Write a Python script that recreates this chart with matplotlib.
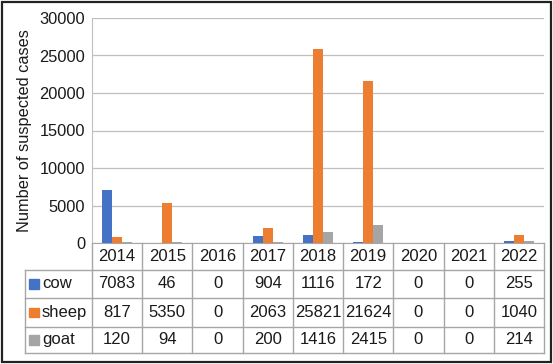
import matplotlib
matplotlib.use('Agg')
import matplotlib.pyplot as plt
import matplotlib.transforms as mtransforms
from matplotlib.patches import Rectangle
import numpy as np

plt.rcParams['font.family'] = ['Liberation Sans', 'DejaVu Sans']

years = ['2014', '2015', '2016', '2017', '2018', '2019', '2020', '2021', '2022']
series_names = ['cow', 'sheep', 'goat']
cow = [7083, 46, 0, 904, 1116, 172, 0, 0, 255]
sheep = [817, 5350, 0, 2063, 25821, 21624, 0, 0, 1040]
goat = [120, 94, 0, 200, 1416, 2415, 0, 0, 214]
colors = ['#4472C4', '#ED7D31', '#A5A5A5']

W, H = 553, 364
fig = plt.figure(figsize=(W / 100, H / 100), dpi=100)
ax = fig.add_axes([92 / W, (H - 243) / H, 452 / W, 225 / H])

x = np.arange(len(years))
bw = 0.2
for k, vals in enumerate([cow, sheep, goat]):
    ax.bar(x + (k - 1) * bw, vals, width=bw, color=colors[k], zorder=3)

ax.set_xlim(-0.5, len(years) - 0.5)
ax.set_ylim(0, 30000)
ax.set_yticks(range(0, 30001, 5000))
ax.tick_params(axis='y', length=0, labelsize=11.8, pad=5, labelcolor='#1a1a1a')
ax.set_xticks([])
ax.grid(axis='y', color='#BFBFBF', lw=0.9, zorder=0)
for s in ['top', 'right']:
    ax.spines[s].set_visible(False)
ax.spines['left'].set_color('#BFBFBF')
ax.spines['bottom'].set_color('#A6A6A6')
ax.set_ylabel('Number of suspected cases', fontsize=11.8, color='#1a1a1a', labelpad=5)

# data table under the plot: x in data units, y in axes units
tr = mtransforms.blended_transform_factory(ax.transData, ax.transAxes)
row_y = [0, -0.12, -0.2444, -0.3733, -0.4889]
left_x = -1.835
lc = '#A6A6A6'
fs = 12

for i in range(len(years) + 1):
    xb = i - 0.5
    ax.plot([xb, xb], [row_y[0], row_y[-1]], transform=tr, color=lc, lw=1,
            clip_on=False)
ax.plot([left_x, left_x], [row_y[1], row_y[-1]], transform=tr, color=lc, lw=1,
        clip_on=False)
for yy in row_y[1:]:
    ax.plot([left_x, len(years) - 0.5], [yy, yy], transform=tr, color=lc, lw=1,
            clip_on=False)

for i, yr in enumerate(years):
    ax.text(i, (row_y[0] + row_y[1]) / 2, yr, transform=tr, ha='center',
            va='center', fontsize=fs, color='#1a1a1a')

for r, (name, vals) in enumerate(zip(series_names, [cow, sheep, goat])):
    yc = (row_y[r + 1] + row_y[r + 2]) / 2
    ax.add_patch(Rectangle((left_x + 0.09, yc - 0.022), 0.19, 0.044, transform=tr,
                           color=colors[r], clip_on=False))
    ax.text(left_x + 0.34, yc, name, transform=tr, ha='left', va='center',
            fontsize=fs, color='#1a1a1a')
    for i, v in enumerate(vals):
        ax.text(i, yc, str(v), transform=tr, ha='center', va='center',
                fontsize=fs, color='#1a1a1a')

# outer frame
fig.patches.append(Rectangle((1.5 / W, 2 / H), (W - 4) / W, (H - 4) / H,
                             transform=fig.transFigure, fill=False,
                             edgecolor='#222222', lw=1.6))

fig.savefig('out.png', dpi=100)
